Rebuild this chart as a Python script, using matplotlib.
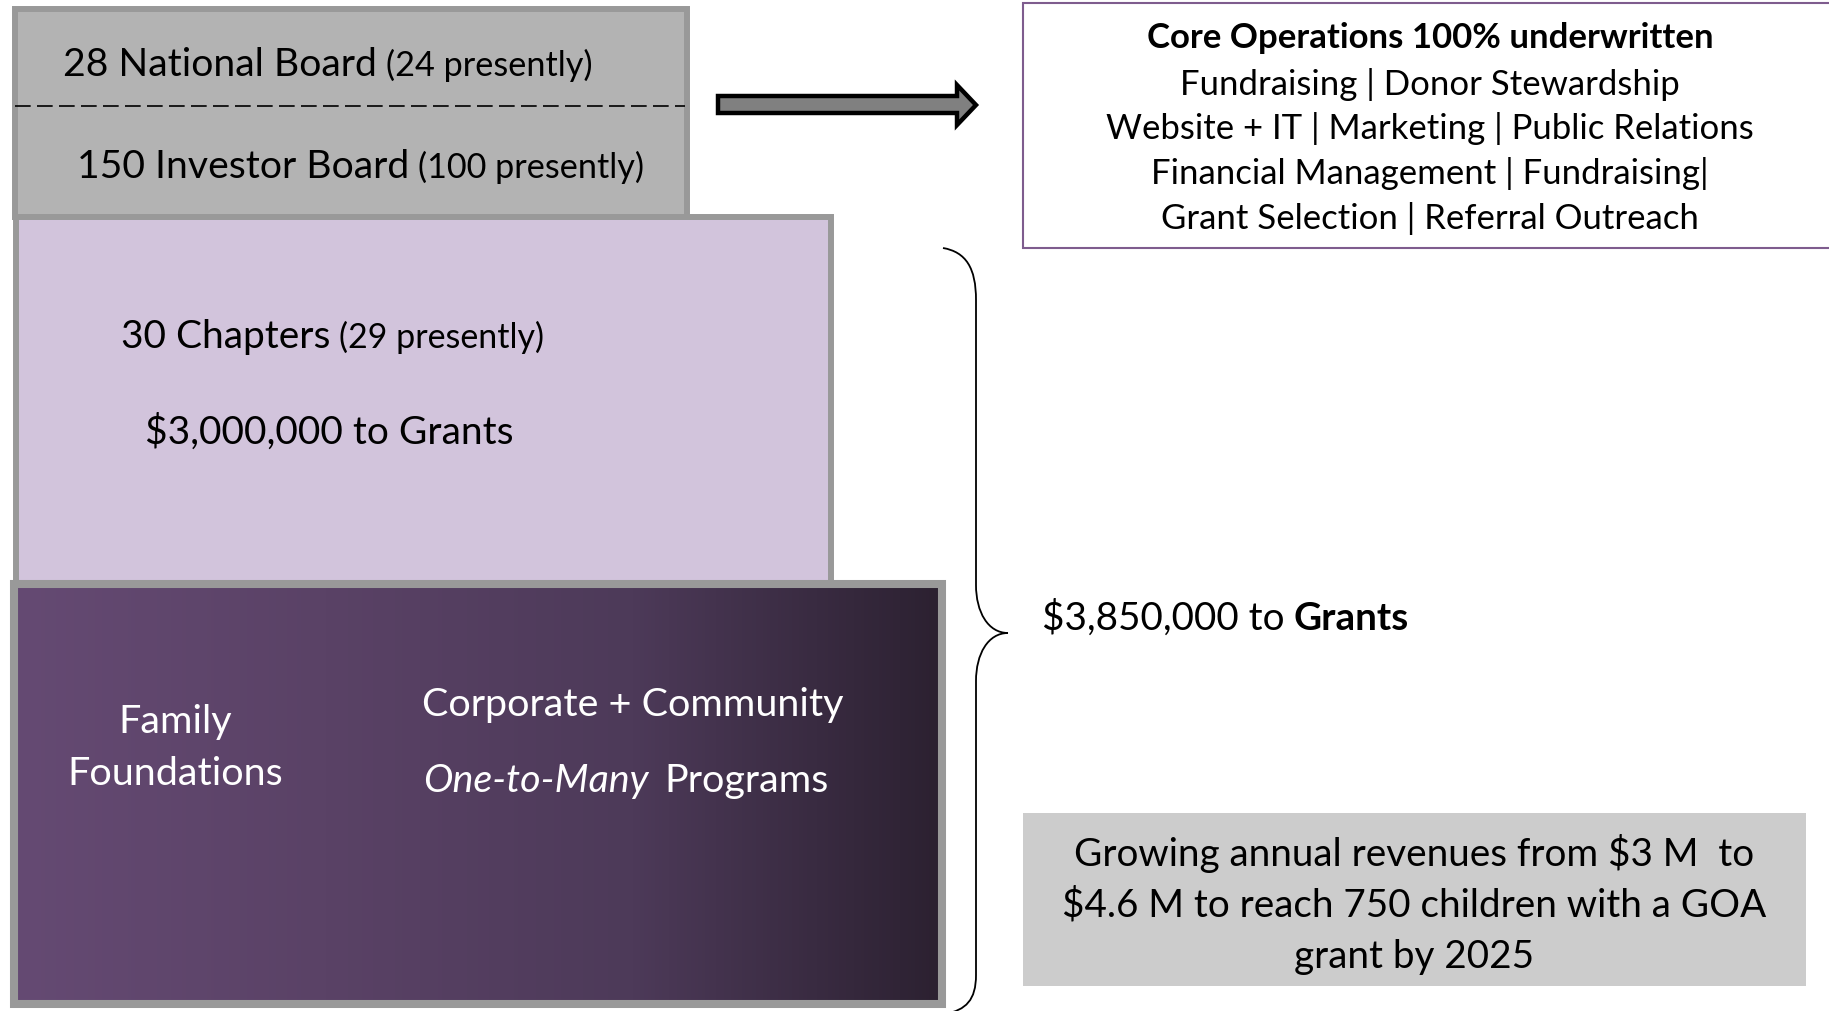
import matplotlib
matplotlib.use('Agg')
import matplotlib.pyplot as plt
import numpy as np
from matplotlib.patches import Rectangle, Polygon, PathPatch
from matplotlib.path import Path
from matplotlib.colors import LinearSegmentedColormap

W, H = 1829, 1011
FONT = 'Lato'

# ---------------- content ----------------
national_board = ["28 National Board", "(24 presently)"]
investor_board = ["150 Investor Board", "(100 presently)"]
chapters = ["30 Chapters", "(29 presently)"]
chapters_grants = "$3,000,000 to Grants"
family_lines = ["Family", "Foundations"]
corporate_line = "Corporate + Community"
programs_line = ["One-to-Many", "Programs"]
core_title = "Core Operations 100% underwritten"
core_items = ["Fundraising | Donor Stewardship",
              "Website + IT | Marketing | Public Relations",
              "Financial Management | Fundraising|",
              "Grant Selection | Referral Outreach"]
total_grants = ["$3,850,000 to", "Grants"]
growth_lines = ["Growing annual revenues from $3 M  to",
                "$4.6 M to reach 750 children with a GOA",
                "grant by 2025"]

# colours
board_fill = '#b3b3b3'
box_edge = '#999999'
chap_fill = '#d2c4dc'
grad_left = '#654a73'
grad_right = '#2c2131'
core_edge = '#7e5c8e'
growth_fill = '#cccccc'

fig = plt.figure(figsize=(W / 100, H / 100), dpi=100)
ax = fig.add_axes([0, 0, 1, 1])
ax.set_xlim(0, W)
ax.set_ylim(H, 0)
ax.axis('off')
renderer = fig.canvas.get_renderer()


def measure(s, size, weight='normal', style='normal'):
    t = ax.text(0, 0, s, fontfamily=FONT, fontsize=size, fontweight=weight, fontstyle=style)
    w = t.get_window_extent(renderer).width
    t.remove()
    return w


def space_w(size, weight='normal', style='normal'):
    return measure("x x", size, weight, style) - measure("xx", size, weight, style)


def seg_width(segs, scale):
    tot = 0
    for i, (s, sz, wt, st, gap) in enumerate(segs):
        tot += gap * space_w(sz * scale, wt, st) + measure(s, sz * scale, wt, st)
    return tot


def fit(lines, targets):
    """common scale for a group of lines"""
    m = sum(seg_width(l, 1.0) for l in lines)
    return sum(targets) / m


def draw_line(segs, x, yc, scale, ha='left', color='black'):
    total = seg_width(segs, scale)
    if ha == 'center':
        x0 = x - total / 2
    else:
        x0 = x
    big = max(sz for _, sz, _, _, _ in segs) * scale
    base = yc + 0.36 * big * 100 / 72
    cx = x0
    for s, sz, wt, st, gap in segs:
        cx += gap * space_w(sz * scale, wt, st)
        ax.text(cx, base, s, fontfamily=FONT, fontsize=sz * scale, fontweight=wt,
                fontstyle=st, color=color, ha='left', va='baseline', zorder=5)
        cx += measure(s, sz * scale, wt, st)


def R(s, sz=20, gap=0):
    return (s, sz, 'normal', 'normal', gap)


# ---------------- boxes ----------------
# board box
ax.add_patch(Rectangle((15, 9), 672, 208, facecolor=board_fill, edgecolor=box_edge, lw=4.3, zorder=1))
ax.plot([15, 685], [106, 106], color='black', lw=1.2, ls=(0, (9.4, 3.8)), zorder=2)
# chapters box
ax.add_patch(Rectangle((16, 217), 815, 366, facecolor=chap_fill, edgecolor=box_edge, lw=4.3, zorder=2))
# gradient box
cmap = LinearSegmentedColormap.from_list('g', [grad_left, '#5a4266', '#4d3a59', grad_right])
grad = np.linspace(0, 1, 256).reshape(1, -1)
ax.imshow(grad, cmap=cmap, extent=(14, 942, 1004, 584), aspect='auto', zorder=3, interpolation='bilinear')
ax.add_patch(Rectangle((14, 584), 928, 420, facecolor='none', edgecolor=box_edge, lw=5.8, zorder=4))
ax.set_xlim(0, W)
ax.set_ylim(H, 0)

# arrow
arrow = [(718, 96), (957, 96), (957, 85), (976, 105), (957, 125), (957, 113), (718, 113)]
ax.add_patch(Polygon(arrow, closed=True, facecolor='#808080', edgecolor='black', lw=3.2,
                     joinstyle='miter', zorder=2))

# core operations box
ax.add_patch(Rectangle((1023, 3), 830, 245, facecolor='white', edgecolor=core_edge, lw=1.5, zorder=1))
# growth box
ax.add_patch(Rectangle((1023, 813), 783, 173, facecolor=growth_fill, edgecolor='none', zorder=1))

# brace
verts = [(943, 248), (966, 252), (976, 268), (976, 300),
         (976, 585),
         (976, 612), (988, 633), (1008, 633),
         (988, 633), (976, 654), (976, 681),
         (976, 975),
         (976, 1000), (966, 1010), (945, 1014)]
codes = [Path.MOVETO, Path.CURVE4, Path.CURVE4, Path.CURVE4,
         Path.LINETO,
         Path.CURVE4, Path.CURVE4, Path.CURVE4,
         Path.CURVE4, Path.CURVE4, Path.CURVE4,
         Path.LINETO,
         Path.CURVE4, Path.CURVE4, Path.CURVE4]
ax.add_patch(PathPatch(Path(verts, codes), facecolor='none', edgecolor='black', lw=1.3, zorder=3))

# ---------------- texts ----------------
l1 = [R(national_board[0], 20), R(national_board[1], 17.5, 1)]
l2 = [R(investor_board[0], 20), R(investor_board[1], 17.5, 1)]
s = fit([l1, l2], [532, 566])
draw_line(l1, 63, 62, s)
draw_line(l2, 77, 164, s)

l3 = [R(chapters[0], 20), R(chapters[1], 17.5, 1)]
l4 = [R(chapters_grants, 20)]
s = fit([l3, l4], [427, 364])
draw_line(l3, 121, 334, s)
draw_line(l4, 145, 430, s)

f1 = [R(family_lines[0], 20)]
f2 = [R(family_lines[1], 20)]
c1 = [R(corporate_line, 20)]
c2 = [(programs_line[0], 20, 'normal', 'italic', 0), R(programs_line[1], 20, 1.6)]
s = fit([f1, f2, c1, c2], [111, 214, 417, 415])
draw_line(f1, 175, 719, s, ha='center', color='white')
draw_line(f2, 175, 771, s, ha='center', color='white')
draw_line(c1, 422, 702, s, color='white')
draw_line(c2, 423, 778, s, color='white')

t1 = [R(total_grants[0], 20), (total_grants[1], 20, 'bold', 'normal', 1)]
s = fit([t1], [367])
draw_line(t1, 1042, 616, s)

core_lines = [[(core_title, 20, 'bold', 'normal', 0)]] + [[R(c, 20)] for c in core_items]
core_y = [35, 82, 126, 171, 216]
core_targets = [557, 499, 652, 570, 535]
s = fit(core_lines, core_targets)
for l, y in zip(core_lines, core_y):
    draw_line(l, 1430, y, s, ha='center')

g_lines = [[R(g, 20)] for g in growth_lines]
g_y = [852, 903, 954]
s = fit(g_lines, [688, 703, 237])
for l, y in zip(g_lines, g_y):
    draw_line(l, 1414, y, s, ha='center')

fig.savefig('out.png', dpi=100)
